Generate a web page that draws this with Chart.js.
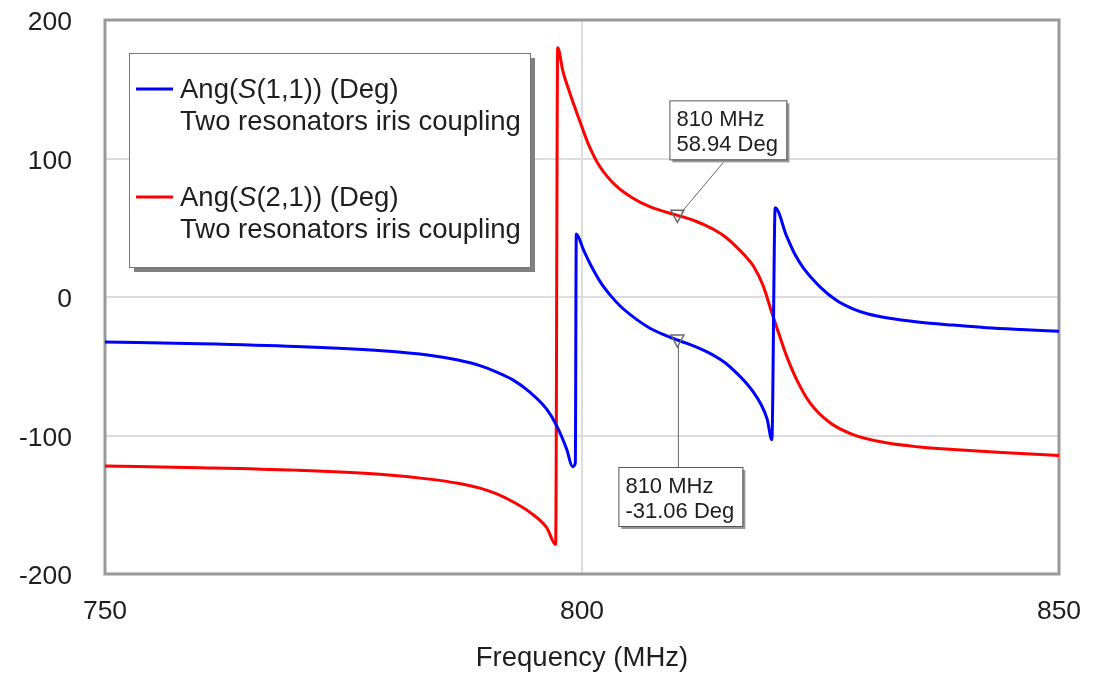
<!DOCTYPE html>
<html>
<head>
<meta charset="utf-8">
<script src="https://cdn.jsdelivr.net/npm/chart.js@4.4.1/dist/chart.umd.min.js"></script>
<style>
  html, body { margin: 0; padding: 0; background: #fff; }
  #wrap { width: 1093px; height: 675px; }
</style>
</head>
<body>
<div id="wrap"><canvas id="phaseChart" width="1093" height="675"></canvas></div>
<script>
// Ang(S(1,1)) in degrees vs frequency (MHz)
const freqS11 = [750, 760, 770, 779, 784, 787, 789.3, 791, 792.8, 794.5, 796.3, 797.35, 798.4, 799.0, 799.3,
    799.4, 800.14, 801, 802, 803, 804, 805.4, 807, 808.5, 810, 811, 812, 813, 814, 815, 816, 817, 818,
    818.8, 819.4, 819.9, 820.25, 821.45, 822.3, 823.2, 825, 826.7, 828.4, 830, 831.9, 835.4, 838.9,
    842.4, 846, 850];
const angS11 = [-32.5, -33.8, -35.8, -38.8, -42, -45.5, -49.5, -54, -60, -68.5, -81, -93, -110, -122.5, -120,
    45.5, 34.3, 22, 10, 1, -6.5, -14.5, -22, -27, -31.06, -33.5, -36.2, -39.3, -43, -47.5, -53.5, -60.5, -69,
    -78, -88, -103, 64.4, 43.9, 31, 21, 7, -2.5, -8.5, -12.3, -15, -18.2, -20.3,
    -22.2, -23.5, -24.7];

// Ang(S(2,1)) in degrees vs frequency (MHz)
const freqS21 = [750, 760, 770, 778.8, 784, 787, 789.3, 791, 792.8, 794.55, 796.3, 797.24, 797.45, 798,
    798.74, 799.4, 800.14, 800.6, 801.2, 801.7, 802.3, 803.6, 805.3, 807.1, 810, 811, 812, 813, 814, 815,
    816, 817, 818, 819, 819.9, 820.6, 821.45, 822.5, 823.9, 826, 828.4, 831.9, 835.4, 838.9, 844, 850];
const angS21 = [-122, -123.2, -125, -128, -131.5, -134.5, -138, -142, -148, -155.5, -166.5, -178.7, 180, 163,
    147, 134, 120, 111.5, 102.5, 96, 90, 80, 71.5, 65.2, 58.94, 57, 54.5, 51.5, 48, 43.5,
    37.5, 30.5, 22, 8, -11.4, -25.8, -42.7, -59.6, -76.4, -90.8, -99.3, -105.3, -108.3, -110.1, -112.3, -114.4];

// marker readouts (MHz, Deg)
const markerFreqs = [810, 810];
const markerAngles = [58.94, -31.06];

const xTicks = [750, 800, 850];
const yTicks = [-200, -100, 0, 100, 200];

const seriesNames = ['Ang(S(1,1)) (Deg)', 'Ang(S(2,1)) (Deg)'];
const seriesNote = 'Two resonators iris coupling';

const FONT = "'Liberation Sans', Arial, sans-serif";
const TEXT = '#1e1e1e';

function toPoints(xs, ys) {
    return xs.map((x, i) => ({ x: x, y: ys[i] }));
}

// frame, legend box and marker callouts
const overlay = {
    id: 'overlay',
    beforeDatasetsDraw(chart) {
        const { ctx, chartArea: a } = chart;
        ctx.save();
        ctx.strokeStyle = '#999';
        ctx.lineWidth = 3;
        ctx.strokeRect(a.left, a.top, a.right - a.left, a.bottom - a.top);
        ctx.restore();
    },
    afterDatasetsDraw(chart) {
        const { ctx } = chart;
        const xs = chart.scales.x, ys = chart.scales.y;
        ctx.save();

        // legend
        const lx = 129, ly = 53, lw = 401, lh = 214;
        ctx.fillStyle = '#808080';
        ctx.fillRect(lx + 5, ly + 5, lw, lh);
        ctx.fillStyle = '#fff';
        ctx.fillRect(lx, ly, lw, lh);
        ctx.strokeStyle = '#777';
        ctx.lineWidth = 1;
        ctx.strokeRect(lx + 0.5, ly + 0.5, lw, lh);

        const entries = [
            { color: '#0000ff', y: 89, name: seriesNames[0] },
            { color: '#ff0000', y: 197, name: seriesNames[1] }
        ];
        entries.forEach(e => {
            ctx.strokeStyle = e.color;
            ctx.lineWidth = 3;
            ctx.beginPath();
            ctx.moveTo(136, e.y);
            ctx.lineTo(173, e.y);
            ctx.stroke();

            ctx.fillStyle = TEXT;
            ctx.textBaseline = 'alphabetic';
            ctx.textAlign = 'left';
            // "S" in italics, the rest upright
            const head = e.name.slice(0, 4), sym = e.name.slice(4, 5), tail = e.name.slice(5);
            let tx = 180;
            ctx.font = '27.5px ' + FONT;
            ctx.fillText(head, tx, e.y + 9);
            tx += ctx.measureText(head).width;
            ctx.font = 'italic 27.5px ' + FONT;
            ctx.fillText(sym, tx, e.y + 9);
            tx += ctx.measureText(sym).width;
            ctx.font = '27.5px ' + FONT;
            ctx.fillText(tail, tx, e.y + 9);
            ctx.fillText(seriesNote, 180, e.y + 41);
        });

        // marker callouts
        markerFreqs.forEach((f, i) => {
            const px = xs.getPixelForValue(f);
            const py = ys.getPixelForValue(markerAngles[i]);
            const above = i === 0;
            const bw = above ? 117 : 124, bh = 59;
            const bx = above ? px - 8 : px - 59;
            const by = above ? py - 115 : py + 127;

            // leader line
            ctx.strokeStyle = '#666';
            ctx.lineWidth = 1;
            ctx.beginPath();
            if (above) {
                ctx.moveTo(px + 4, py - 3);
                ctx.lineTo(bx + 54, by + bh + 3);
            } else {
                ctx.moveTo(px + 1, py + 6);
                ctx.lineTo(px + 1, by);
            }
            ctx.stroke();

            // hollow triangle marker
            ctx.strokeStyle = '#6a6a6a';
            ctx.lineWidth = 1.5;
            ctx.beginPath();
            ctx.moveTo(px - 6.5, py - 5);
            ctx.lineTo(px + 6.5, py - 5);
            ctx.lineTo(px, py + 7);
            ctx.closePath();
            ctx.stroke();

            // box with shadow
            ctx.fillStyle = '#999';
            ctx.fillRect(bx + 3, by + 3, bw, bh);
            ctx.fillStyle = '#fff';
            ctx.fillRect(bx, by, bw, bh);
            ctx.strokeStyle = '#555';
            ctx.lineWidth = 1;
            ctx.strokeRect(bx + 0.5, by + 0.5, bw, bh);

            ctx.fillStyle = TEXT;
            ctx.font = '22px ' + FONT;
            ctx.textAlign = 'left';
            ctx.fillText(f + ' MHz', bx + 7, by + 26);
            ctx.fillText(markerAngles[i].toFixed(2) + ' Deg', bx + 7, by + 51);
        });
        ctx.restore();
    }
};

new Chart(document.getElementById('phaseChart'), {
    type: 'line',
    data: {
        datasets: [{
            label: seriesNames[0],
            data: toPoints(freqS11, angS11),
            borderColor: '#0000ff',
            borderWidth: 3,
            pointRadius: 0,
            cubicInterpolationMode: 'monotone'
        }, {
            label: seriesNames[1],
            data: toPoints(freqS21, angS21),
            borderColor: '#ff0000',
            borderWidth: 3,
            pointRadius: 0,
            cubicInterpolationMode: 'monotone'
        }]
    },
    options: {
        responsive: false,
        animation: false,
        layout: { padding: { top: 20, right: 34, left: 0, bottom: 0 } },
        plugins: { legend: { display: false }, tooltip: { enabled: false } },
        scales: {
            x: {
                type: 'linear',
                min: xTicks[0],
                max: xTicks[xTicks.length - 1],
                // fixed axis band; edge labels may overhang the plot
                afterFit: s => { s.height = 101; s.paddingLeft = 0; s.paddingRight = 0; },
                afterBuildTicks: s => { s.ticks = xTicks.map(v => ({ value: v })); },
                grid: { color: '#dddddd', lineWidth: 2, drawTicks: false },
                border: { display: false },
                ticks: { padding: 22, color: TEXT, font: { family: FONT, size: 26.5 } },
                title: {
                    display: true,
                    text: 'Frequency (MHz)',
                    color: TEXT,
                    padding: 0,
                    font: { family: FONT, size: 27.5 }
                }
            },
            y: {
                min: yTicks[0],
                max: yTicks[yTicks.length - 1],
                afterFit: s => { s.width = 105; s.paddingTop = 0; s.paddingBottom = 0; },
                afterBuildTicks: s => { s.ticks = yTicks.map(v => ({ value: v })); },
                grid: { color: '#dddddd', lineWidth: 2, drawTicks: false },
                border: { display: false },
                ticks: { padding: 33, labelOffset: 3, color: TEXT, font: { family: FONT, size: 26.5 } }
            }
        }
    },
    plugins: [overlay]
});
</script>
</body>
</html>
